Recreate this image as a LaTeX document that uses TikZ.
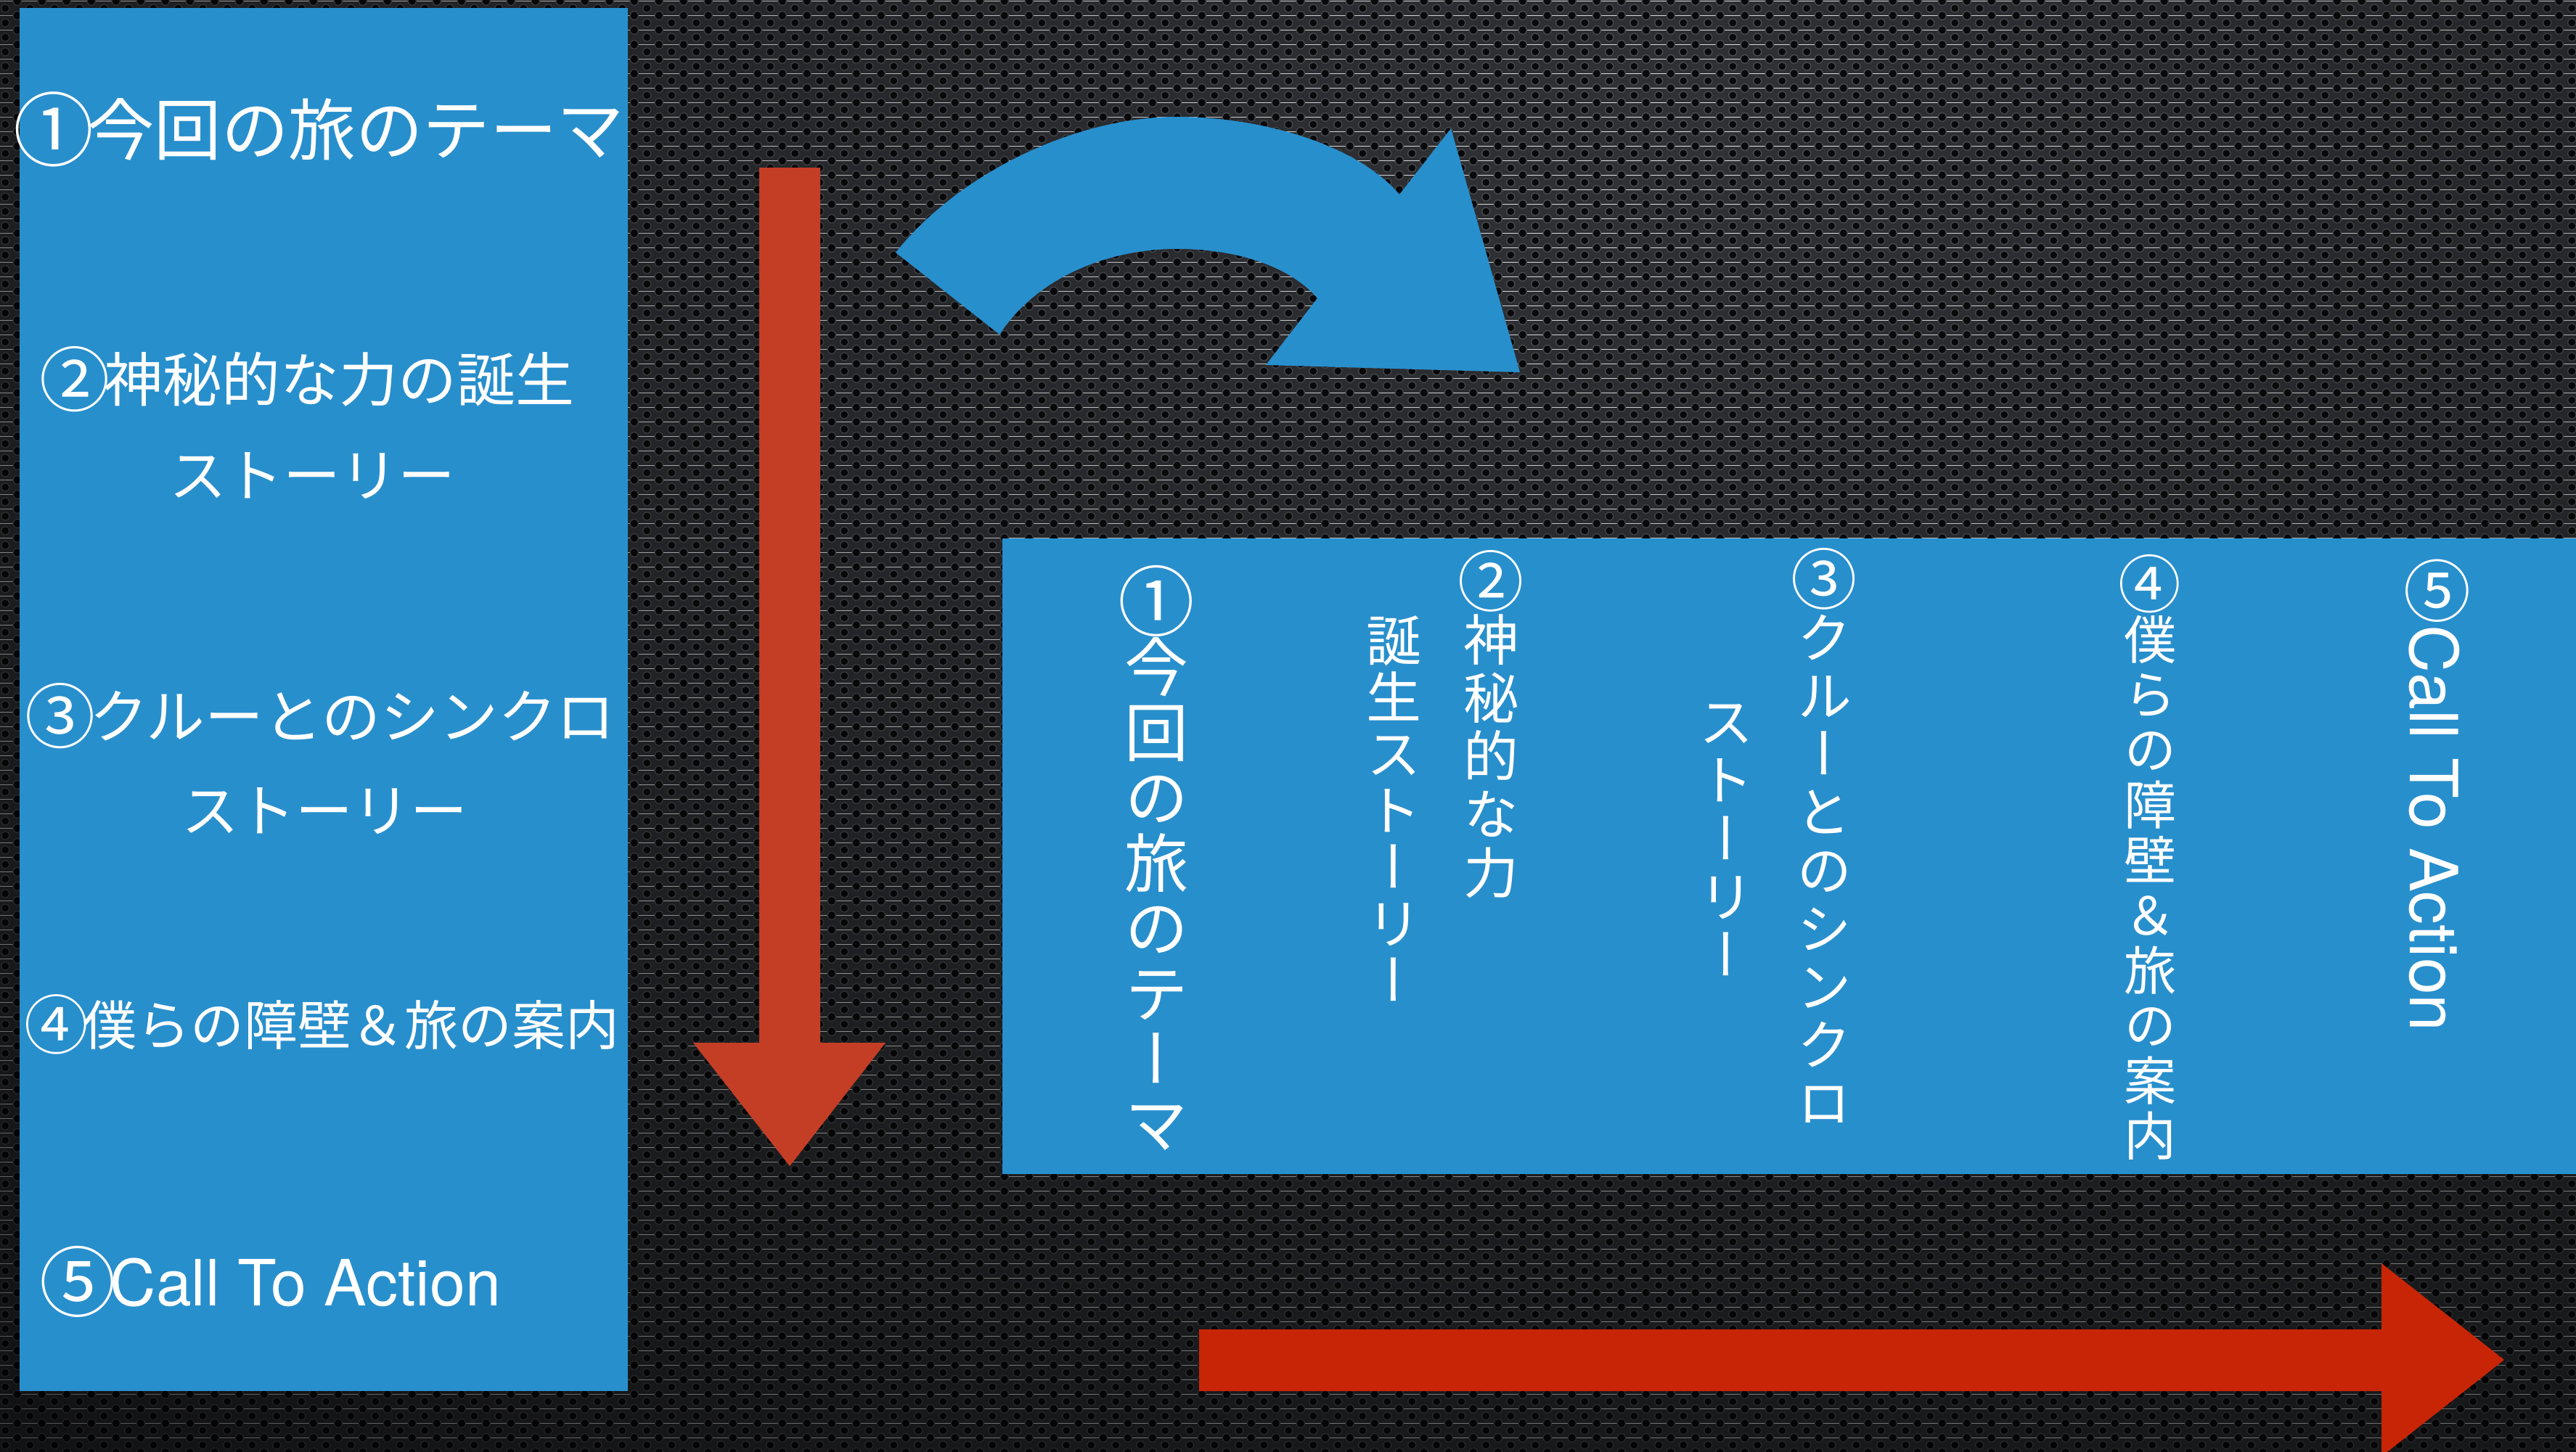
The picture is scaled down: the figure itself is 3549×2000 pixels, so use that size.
\documentclass[tikz,border=0pt]{standalone}
\usepackage{fontspec}
\usepackage{graphicx}
\usetikzlibrary{patterns.meta,fadings}
\newfontfamily\jp{Noto Sans CJK JP}
\newfontfamily\vjp[RawFeature=+vert]{Noto Sans CJK JP}
\newfontfamily\lat{TeX Gyre Heros}
\newcommand\vskipfix{\lineskiplimit=-100pt\relax\lineskip=0pt\relax}
\newcommand\cnum[1]{\makebox[1em][c]{\raisebox{-0.075em}{\scalebox{1.2}{#1}}}}
\definecolor{bgbase}{RGB}{48,50,54}
\definecolor{bgring}{RGB}{74,77,82}
\definecolor{bghole}{RGB}{10,10,12}
\definecolor{boxblue}{RGB}{40,143,205}
\definecolor{arrred}{RGB}{196,62,38}
\definecolor{arrredb}{RGB}{200,37,6}
\tikzdeclarepattern{
  name=holes, type=colored,
  bounding box={(0pt,0pt) and (9.674pt,5.691pt)},
  tile size={(9.674pt,5.691pt)},
  code={
    \fill[bgbase] (0pt,0pt) rectangle (9.674pt,5.691pt);
    \foreach \p in {(2.419pt,2.845pt),(7.255pt,0pt),(7.255pt,5.691pt)}{
      \fill[bgring] \p circle (1.85pt);
      \fill[bghole] \p circle (1.42pt);
    }
  }
}
\tikzfading[name=vignette, inner color=transparent!100, outer color=transparent!30]
\begin{document}
\begin{tikzpicture}[x=0.01cm, y=-0.01cm,
  htext/.style={text=white, inner sep=0pt, anchor=center},
  vtext/.style={text=white, inner sep=0pt, anchor=north, align=center},
]
\useasboundingbox (0,0) rectangle (3549,2000);
\clip (0,0) rectangle (3549,2000);
% background
\fill[pattern=holes] (0,0) rectangle (3549,2000);
\fill[black, path fading=vignette, fit fading=true] (-1700,-2300) rectangle (6300,2700);

% blue panels
\fill[boxblue] (27,11) rectangle (865,1917);
\fill[boxblue] (1381,742) rectangle (3549,1618);

% red down arrow
\fill[arrred] (1046,231) -- (1130,231) -- (1130,1437) -- (1220,1437) -- (1088,1607) -- (955,1437) -- (1046,1437) -- cycle;

% blue curved arrow
\fill[boxblue] (1234,348) .. controls (1320,240) and (1480,161) .. (1621,161)
  .. controls (1740,161) and (1870,200) .. (1928,268) -- (1999,177) -- (2094,513) -- (1744,503) -- (1815,411)
  .. controls (1780,370) and (1710,343) .. (1621,343)
  .. controls (1530,343) and (1430,380) .. (1377,461) -- cycle;

% red right arrow
\fill[arrredb] (1652,1832) -- (3281,1832) -- (3281,1741) -- (3450,1874) -- (3281,2007) -- (3281,1917) -- (1652,1917) -- cycle;

% left panel texts
\node[htext, font=\jp\fontsize{26.3}{30}\selectfont] (l1) at (444,178) {\cnum{①}今回の旅のテーマ};
\node[htext, font=\jp\fontsize{23}{26}\selectfont] (l2) at (427,523) {\cnum{②}神秘的な力の誕生};
\node[htext, font=\jp\fontsize{22.4}{26}\selectfont] (l2b) at (430,656) {ストーリー};
\node[htext, font=\jp\fontsize{23}{26}\selectfont] (l3) at (445,987) {\cnum{③}クルーとのシンクロ};
\node[htext, font=\jp\fontsize{22.4}{26}\selectfont] (l3b) at (447,1118) {ストーリー};
\node[htext, font=\jp\fontsize{21}{26}\selectfont] (l4) at (447,1412) {\cnum{④}僕らの障壁＆旅の案内};
\node[htext, anchor=west, font=\fontsize{25}{30}\selectfont] (l5) at (63,1766) {{\jp\cnum{⑤}}{\lat Call To Action}};

% right panel vertical texts
\node[vtext, font={\vjp\fontsize{25}{25.6}\selectfont\vskipfix}] (r1) at (1593,779) {\cnum{①}\\今\\回\\の\\旅\\の\\テ\\ー\\マ};
\node[vtext, font={\vjp\fontsize{21.6}{22.8}\selectfont\vskipfix}] (r2a) at (2054,758) {\cnum{②}\\神\\秘\\的\\な\\力};
\node[vtext, font={\vjp\fontsize{21.6}{22.2}\selectfont\vskipfix}] (r2b) at (1920,848) {誕\\生\\ス\\ト\\ー\\リ\\ー};
\node[vtext, font={\vjp\fontsize{21.6}{22.8}\selectfont\vskipfix}] (r3a) at (2513,755) {\cnum{③}\\ク\\ル\\ー\\と\\の\\シ\\ン\\ク\\ロ};
\node[vtext, font={\vjp\fontsize{21.6}{22.8}\selectfont\vskipfix}] (r3b) at (2378,970) {ス\\ト\\ー\\リ\\ー};
\node[vtext, font={\vjp\fontsize{20.5}{21.6}\selectfont\vskipfix}] (r4) at (2962,764) {\cnum{④}\\僕\\ら\\の\\障\\壁\\＆\\旅\\の\\案\\内};
\node[vtext, font=\jp\fontsize{22}{24}\selectfont] (r5n) at (3358,770) {\cnum{⑤}};
\node[htext, rotate=-90, anchor=west, font=\lat\fontsize{26}{30}\selectfont] (r5) at (3354,861) {Call To Action};
\end{tikzpicture}
\end{document}
